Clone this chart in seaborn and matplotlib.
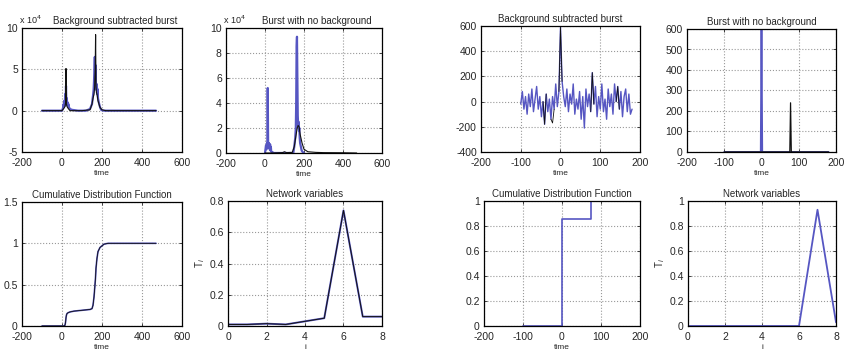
import numpy as np
import pandas as pd
import matplotlib
matplotlib.use("Agg")
import matplotlib.pyplot as plt
import seaborn as sns
from matplotlib.ticker import FuncFormatter

# ---------------- data ----------------
# Panel 1: background subtracted burst (large burst)
p1_blue_t = [-100, -60, -20, 0, 5, 8, 10, 12, 14, 16, 18, 20, 22, 24, 26, 28, 30, 32, 35, 40, 50, 80,
             120, 140, 150, 155, 158, 160, 162, 164, 166, 168, 170, 172, 174, 176, 178, 180, 184, 188,
             192, 196, 200, 210, 230, 260, 300, 350, 400, 470]
p1_blue_v = [0, 0, 0, 0, 3000, 8000, 5000, 12000, 6000, 20000, 10000, 30000, 8000, 15000, 7000, 10000,
             6000, 8000, 4000, 2000, 1000, 0, 0, 2000, 8000, 18000, 25000, 35000, 50000, 65000, 40000,
             55000, 30000, 25000, 32000, 20000, 26000, 15000, 10000, 6000, 3000, 1000, 500, 0, 0, 0, 0,
             0, 0, 0]
p1_black_t = [-100, 0, 10, 15, 18, 20, 22, 25, 30, 40, 100, 140, 150, 155, 160, 163, 166, 168, 170, 172,
              175, 180, 190, 200, 220, 300, 400, 470]
p1_black_v = [0, 0, 3000, 5000, 10000, 51000, 8000, 5000, 3000, 0, 0, 1000, 8000, 15000, 20000, 28000,
              50000, 92000, 30000, 22000, 20000, 12000, 4000, 1000, 0, 0, 0, 0]

# Panel 2: burst with no background
p2_blue_t = [0, 5, 8, 10, 12, 14, 16, 18, 20, 22, 24, 26, 28, 30, 32, 35, 40, 45, 145, 150, 155, 158,
             160, 162, 164, 166, 168, 170, 172, 174, 176, 178, 180, 184, 188, 192, 196, 200]
p2_blue_v = [0, 6000, 3000, 8000, 5000, 52000, 7000, 4000, 8000, 6000, 3000, 7000, 2000, 5000, 1000,
             800, 500, 0, 0, 5000, 12000, 20000, 40000, 85000, 93000, 60000, 30000, 22000, 25000,
             18000, 20000, 12000, 8000, 5000, 2000, 1000, 500, 0]
p2_black_t = [0, 20, 40, 90, 100, 110, 140, 150, 160, 165, 170, 175, 180, 190, 200, 220, 260, 300, 400, 470]
p2_black_v = [0, 0, 0, 300, 1000, 300, 500, 5000, 15000, 20000, 22000, 21000, 15000, 8000, 3000, 1000,
              500, 300, 200, 0]

# Panel 3: cumulative distribution function (large burst)
p3_t = [-100, 0, 10, 15, 18, 20, 22, 25, 30, 40, 60, 100, 140, 150, 155, 160, 165, 168, 170, 175, 180,
        190, 200, 210, 230, 300, 400, 470]
p3_v = [0, 0, 0, 0.01, 0.05, 0.1, 0.13, 0.15, 0.16, 0.17, 0.18, 0.19, 0.2, 0.21, 0.25, 0.35, 0.5, 0.6,
        0.7, 0.82, 0.9, 0.95, 0.97, 0.99, 1.0, 1.0, 1.0, 1.0]

# Panel 4: network variables (large burst)
p4_i = [0, 1, 2, 3, 4, 5, 6, 7, 8]
p4_v = [0.01, 0.01, 0.015, 0.01, 0.03, 0.05, 0.74, 0.06, 0.06]

# Panel 5: background subtracted burst (short burst)
p5_v = [-20, 80, -60, 40, -100, 60, -40, 100, -80, 20, 120, -60, 40, -120, 0, -180, 60, -80, 20, -140,
        40, -60, 140, -40, 80, 590, 160, 40, -40, 100, -80, 60, -20, 140, -100, 20, -60, 80, -140, 40,
        -210, 100, -40, 60, -80, 230, -20, 120, -120, 40, -60, 140, -80, 20, -140, 100, -40, 60, -100,
        140, 0, 120, -60, 80, -120, 40, 100, -80, 60, -100, -60]
p5_t = np.linspace(-100, 180, len(p5_v))
# black highlighted segments drawn over the blue trace
p5_black_segs_t = [[-44, -40, -36], [-24, -20, -16], [-4, 0, 4], [76, 80, 84], [140, 144, 148]]
p5_black_segs_v = [[0, -180, 60], [-140, -170, -60], [80, 590, 160], [-80, 230, -20], [0, 120, -60]]

# Panel 6: burst with no background (short burst)
p6_blue_t = [-100, -2, 0, 2, 180]
p6_blue_v = [0, 0, 600, 0, 0]
p6_black_t = [-100, 76, 78, 80, 180]
p6_black_v = [0, 0, 240, 0, 0]

# Panel 7: cumulative distribution function (short burst)
p7_t = [-100, 0, 0, 75, 75, 200]
p7_v = [0, 0, 0.86, 0.86, 1.0, 1.0]

# Panel 8: network variables (short burst)
p8_i = [0, 1, 2, 3, 4, 5, 6, 7, 8]
p8_v = [0, 0, 0, 0, 0, 0, 0, 0.93, 0.03]

titles = ["Background subtracted burst", "Burst with no background",
          "Cumulative Distribution Function", "Network variables"]

# ---------------- style ----------------
sns.set_style("whitegrid", {"grid.linestyle": ":", "grid.color": "#999999",
                            "axes.edgecolor": "black", "xtick.direction": "in",
                            "ytick.direction": "in"})
plt.rcParams["font.family"] = ["Liberation Sans", "DejaVu Sans"]
plt.rcParams["font.size"] = 7

BLUE = "#5656c2"
BLACK = "#111111"

W, H = 845, 351
fig = plt.figure(figsize=(W / 100, H / 100), dpi=100)

gfmt = FuncFormatter(lambda v, p: f"{v:g}")
e4fmt = FuncFormatter(lambda v, p: f"{v / 1e4:g}")


def mk(x0, x1, y0, y1):
    return fig.add_axes([x0 / W, 1 - y1 / H, (x1 - x0) / W, (y1 - y0) / H])


def style(ax, title, xlim, xticks, ylim, yticks, xlabel="time", ylabel=None, e4=False):
    ax.set_xlim(*xlim)
    ax.set_ylim(*ylim)
    ax.set_xticks(xticks)
    ax.set_yticks(yticks)
    ax.xaxis.set_major_formatter(gfmt)
    ax.yaxis.set_major_formatter(e4fmt if e4 else gfmt)
    ax.set_title(title, fontsize=7, pad=3)
    ax.set_xlabel(xlabel, fontsize=6, labelpad=1)
    if ylabel:
        ax.set_ylabel(ylabel, fontsize=7, labelpad=2)
    else:
        ax.set_ylabel("")
    ax.tick_params(axis="both", labelsize=7.5, length=2, width=0.6,
                   top=True, right=True, bottom=True, left=True, direction="in")
    ax.tick_params(axis="x", pad=4.5)
    ax.tick_params(axis="y", pad=3)
    for s in ax.spines.values():
        s.set_linewidth(0.9)
        s.set_color("black")
    ax.grid(True, linestyle=":", color="#999999", linewidth=0.8)
    if e4:
        ax.text(-0.02, 1.015, "x 10$^4$", transform=ax.transAxes, fontsize=6.5,
                ha="left", va="bottom")


def line(ax, x, y, color, lw):
    sns.lineplot(x=list(x), y=list(y), ax=ax, color=color, linewidth=lw, sort=False,
                 estimator=None, legend=False)


# Panel 1
ax1 = mk(22, 182, 28, 152)
line(ax1, p1_blue_t, p1_blue_v, BLUE, 1.6)
line(ax1, p1_black_t, p1_black_v, BLACK, 0.8)
style(ax1, titles[0], (-200, 600), [-200, 0, 200, 400, 600], (-50000, 100000),
      [-50000, 0, 50000, 100000], e4=True)
ax1.title.set_position((0.58, 1.0))

# Panel 2
ax2 = mk(226, 382, 28, 153)
line(ax2, p2_blue_t, p2_blue_v, BLUE, 1.6)
line(ax2, p2_black_t, p2_black_v, BLACK, 0.8)
style(ax2, titles[1], (-200, 600), [-200, 0, 200, 400, 600], (0, 100000),
      [0, 20000, 40000, 60000, 80000, 100000], e4=True)
ax2.title.set_position((0.58, 1.0))

# Panel 3
ax3 = mk(22, 182, 202, 326)
line(ax3, p3_t, p3_v, BLUE, 1.2)
line(ax3, p3_t, p3_v, BLACK, 0.6)
style(ax3, titles[2], (-200, 600), [-200, 0, 200, 400, 600], (0, 1.5), [0, 0.5, 1, 1.5])

# Panel 4
ax4 = mk(228, 382, 201, 326)
line(ax4, p4_i, p4_v, BLUE, 1.4)
line(ax4, p4_i, p4_v, BLACK, 0.7)
style(ax4, titles[3], (0, 8), [0, 2, 4, 6, 8], (0, 0.8), [0, 0.2, 0.4, 0.6, 0.8],
      xlabel="i", ylabel="T$_i$")

# Panel 5
ax5 = mk(481, 640, 26, 152)
line(ax5, p5_t, p5_v, BLUE, 1.0)
for st, sv in zip(p5_black_segs_t, p5_black_segs_v):
    line(ax5, st, sv, BLACK, 0.6)
style(ax5, titles[0], (-200, 200), [-200, -100, 0, 100, 200], (-400, 600),
      [-400, -200, 0, 200, 400, 600])

# Panel 6
ax6 = mk(687, 836, 29, 152)
line(ax6, p6_blue_t, p6_blue_v, BLUE, 1.3)
line(ax6, p6_black_t, p6_black_v, BLACK, 0.9)
style(ax6, titles[1], (-200, 200), [-200, -100, 0, 100, 200], (0, 600),
      [0, 100, 200, 300, 400, 500, 600])

# Panel 7
ax7 = mk(484, 640, 201, 326)
line(ax7, p7_t, p7_v, BLUE, 1.2)
style(ax7, titles[2], (-200, 200), [-200, -100, 0, 100, 200], (0, 1),
      [0, 0.2, 0.4, 0.6, 0.8, 1])

# Panel 8
ax8 = mk(688, 836, 201, 326)
line(ax8, p8_i, p8_v, BLUE, 1.3)
style(ax8, titles[3], (0, 8), [0, 2, 4, 6, 8], (0, 1), [0, 0.2, 0.4, 0.6, 0.8, 1],
      xlabel="i", ylabel="T$_i$")

fig.savefig("out.png", dpi=100)
